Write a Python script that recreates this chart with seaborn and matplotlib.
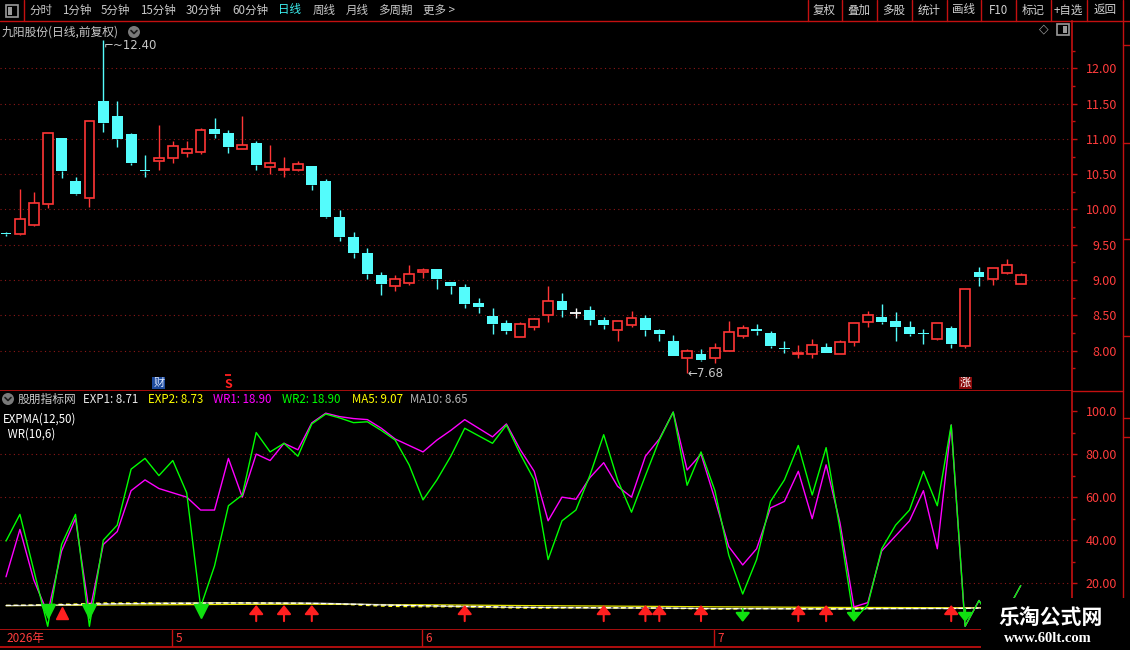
import numpy as np
import pandas as pd
import matplotlib
matplotlib.use("Agg")
import matplotlib.pyplot as plt
import matplotlib.transforms as mtransforms
from matplotlib.lines import Line2D
from matplotlib.patches import Rectangle, Circle
import seaborn as sns

# ---------------- data ----------------
opens = [9.66, 9.65, 9.78, 10.08, 11.01, 10.40, 10.16, 11.54, 11.32, 11.07,
         10.56, 10.69, 10.73, 10.80, 10.82, 11.14, 11.08, 10.86, 10.94, 10.60,
         10.56, 10.56, 10.62, 10.40, 9.89, 9.61, 9.38, 9.07, 8.91, 8.96,
         9.11, 9.16, 8.97, 8.90, 8.68, 8.49, 8.39, 8.20, 8.33, 8.50,
         8.70, 8.54, 8.58, 8.44, 8.30, 8.37, 8.46, 8.29, 8.14, 7.89,
         7.96, 7.89, 7.99, 8.21, 8.29, 8.25, 8.04, 7.96, 7.96, 8.05,
         7.96, 8.13, 8.40, 8.48, 8.42, 8.34, 8.24, 8.17, 8.32, 8.07,
         9.11, 9.01, 9.10, 8.94]
highs = [9.68, 10.29, 10.25, 11.09, 11.01, 10.46, 11.26, 12.40, 11.54, 11.09,
         10.77, 11.20, 10.97, 10.97, 11.15, 11.30, 11.13, 11.32, 10.97, 10.91,
         10.74, 10.69, 10.62, 10.43, 9.99, 9.68, 9.45, 9.11, 9.07, 9.21,
         9.17, 9.16, 8.97, 8.94, 8.75, 8.60, 8.44, 8.40, 8.47, 8.92,
         8.82, 8.60, 8.63, 8.48, 8.42, 8.56, 8.51, 8.31, 8.22, 8.02,
         8.02, 8.11, 8.42, 8.36, 8.38, 8.28, 8.14, 8.08, 8.17, 8.11,
         8.15, 8.39, 8.56, 8.66, 8.55, 8.42, 8.31, 8.39, 8.35, 8.88,
         9.19, 9.17, 9.30, 9.10]
lows = [9.63, 9.64, 9.77, 10.02, 10.44, 10.21, 10.03, 11.10, 10.88, 10.63,
        10.46, 10.56, 10.66, 10.75, 10.79, 11.01, 10.80, 10.86, 10.56, 10.50,
        10.46, 10.54, 10.28, 9.88, 9.55, 9.32, 9.02, 8.79, 8.84, 8.93,
        9.03, 8.88, 8.81, 8.61, 8.54, 8.24, 8.23, 8.20, 8.30, 8.40,
        8.48, 8.47, 8.37, 8.31, 8.14, 8.34, 8.21, 8.14, 7.93, 7.68,
        7.86, 7.82, 7.99, 8.18, 8.22, 8.04, 7.97, 7.90, 7.90, 7.97,
        7.96, 8.06, 8.34, 8.38, 8.14, 8.21, 8.10, 8.15, 8.04, 8.04,
        8.91, 8.93, 9.09, 8.94]
closes = [9.65, 9.87, 10.09, 11.09, 10.55, 10.22, 11.26, 11.23, 11.00, 10.66,
          10.54, 10.73, 10.90, 10.85, 11.12, 11.07, 10.88, 10.92, 10.63, 10.66,
          10.58, 10.64, 10.35, 9.90, 9.61, 9.39, 9.09, 8.95, 9.02, 9.08,
          9.15, 9.02, 8.92, 8.66, 8.62, 8.38, 8.28, 8.38, 8.45, 8.70,
          8.58, 8.54, 8.44, 8.37, 8.42, 8.46, 8.30, 8.23, 7.93, 7.99,
          7.87, 8.04, 8.26, 8.32, 8.28, 8.07, 8.02, 7.97, 8.08, 7.97,
          8.13, 8.39, 8.50, 8.40, 8.34, 8.24, 8.23, 8.39, 8.09, 8.88,
          9.05, 9.17, 9.21, 9.07]

wr1 = [23, 45, 21.5, 6, 35, 50, 6, 38, 44, 63,
       68, 64, 62, 60, 54, 54, 78, 60, 80, 77,
       85, 82, 94.5, 99, 97.4, 96.5, 96, 92, 87, 84,
       81, 86.5, 91, 96, 92, 88, 94, 82, 72, 49,
       60, 59, 69, 76, 65, 60, 79, 87, 99.5, 72.6,
       80, 59, 37, 28.5, 36, 55, 58, 72, 50, 75,
       48, 9, 11, 35, 42, 49, 63, 36, 93.5, 0,
       12, 1.5, 7, 18.9]
wr2 = [39.6, 52, 26, 0, 38, 52, 0, 40, 47, 73,
       78, 70, 77, 62, 9, 28, 56, 61, 90, 81,
       85, 79, 94, 98.6, 96.8, 94.6, 95, 91, 86.5, 75,
       58.7, 68, 79, 92, 88.5, 85, 93.5, 80, 68, 31,
       49, 54, 70, 89, 68, 53, 70, 86.5, 99.5, 65.5,
       81, 63, 33, 15, 31, 58, 68, 84, 61, 83,
       45, 3, 10, 36, 47, 54, 72, 56, 93.5, 0,
       12, 1.5, 7, 18.9]

exp1 = [9.70, 9.73, 9.79, 9.99, 10.08, 10.10, 10.28, 10.43, 10.52, 10.54,
        10.54, 10.57, 10.62, 10.66, 10.73, 10.78, 10.80, 10.82, 10.79, 10.77,
        10.74, 10.72, 10.66, 10.54, 10.40, 10.24, 10.06, 9.89, 9.76, 9.66,
        9.58, 9.49, 9.40, 9.29, 9.19, 9.07, 8.95, 8.86, 8.80, 8.78,
        8.75, 8.72, 8.68, 8.63, 8.60, 8.58, 8.54, 8.49, 8.40, 8.34,
        8.27, 8.23, 8.23, 8.24, 8.25, 8.22, 8.19, 8.16, 8.15, 8.12,
        8.12, 8.16, 8.21, 8.24, 8.26, 8.26, 8.25, 8.27, 8.24, 8.34,
        8.45, 8.56, 8.66, 8.71]
exp2 = [9.60, 9.61, 9.63, 9.69, 9.72, 9.74, 9.80, 9.86, 9.90, 9.93,
        9.95, 9.98, 10.02, 10.05, 10.09, 10.13, 10.16, 10.19, 10.21, 10.23,
        10.24, 10.26, 10.26, 10.25, 10.22, 10.19, 10.15, 10.10, 10.06, 10.02,
        9.99, 9.95, 9.91, 9.86, 9.81, 9.75, 9.69, 9.64, 9.59, 9.56,
        9.52, 9.48, 9.44, 9.40, 9.36, 9.32, 9.28, 9.24, 9.19, 9.14,
        9.09, 9.05, 9.02, 8.99, 8.96, 8.93, 8.89, 8.85, 8.82, 8.79,
        8.76, 8.75, 8.74, 8.73, 8.71, 8.69, 8.67, 8.66, 8.64, 8.65,
        8.67, 8.69, 8.71, 8.73]
ma5 = [9.70, 9.75, 9.85, 10.10, 10.25, 10.36, 10.64, 10.87, 10.85, 10.87,
       10.94, 10.83, 10.77, 10.74, 10.83, 10.93, 10.96, 10.97, 10.92, 10.83,
       10.73, 10.69, 10.57, 10.43, 10.22, 9.98, 9.67, 9.39, 9.21, 9.11,
       9.06, 9.04, 9.04, 8.97, 8.87, 8.72, 8.57, 8.46, 8.42, 8.44,
       8.48, 8.53, 8.54, 8.53, 8.47, 8.45, 8.40, 8.36, 8.27, 8.18,
       8.06, 8.01, 8.02, 8.10, 8.15, 8.19, 8.19, 8.13, 8.08, 8.02,
       8.03, 8.11, 8.21, 8.28, 8.35, 8.37, 8.34, 8.32, 8.26, 8.37,
       8.53, 8.72, 8.88, 9.07]
ma10 = [9.60, 9.65, 9.70, 9.80, 9.90, 10.00, 10.15, 10.30, 10.45, 10.56,
        10.65, 10.74, 10.82, 10.80, 10.85, 10.94, 10.90, 10.87, 10.83, 10.83,
        10.83, 10.83, 10.77, 10.68, 10.53, 10.36, 10.18, 9.98, 9.82, 9.67,
        9.52, 9.36, 9.22, 9.09, 8.99, 8.89, 8.81, 8.75, 8.70, 8.66,
        8.60, 8.55, 8.50, 8.48, 8.46, 8.47, 8.47, 8.45, 8.40, 8.33,
        8.26, 8.21, 8.19, 8.19, 8.17, 8.13, 8.10, 8.08, 8.09, 8.09,
        8.11, 8.15, 8.17, 8.18, 8.19, 8.20, 8.23, 8.27, 8.27, 8.36,
        8.45, 8.53, 8.60, 8.65]

month_labels = ["2026年", "5", "6", "7"]
month_starts = [0, 12, 30, 51]
price_ticks = [8.0, 8.5, 9.0, 9.5, 10.0, 10.5, 11.0, 11.5, 12.0]
wr_ticks = [20, 40, 60, 80, 100]
wr_tick_labels = ["20.00", "40.00", "60.00", "80.00", "100.0"]
buy_arrows = [18, 20, 22, 33, 43, 46, 47, 50, 57, 59, 68]
sell_arrows = [53, 61, 69]
sell_triangles = [3, 6, 14]
buy_triangles = [4]
event_idx = [11, 16, 69]
event_text = ["财", "S", "涨"]
toolbar_left = ["分时", "1分钟", "5分钟", "15分钟", "30分钟", "60分钟", "日线", "周线", "月线", "多周期", "更多 >"]
toolbar_right = ["复权", "叠加", "多股", "统计", "画线", "F10", "标记", "+自选", "返回"]
title = "九阳股份(日线,前复权)"
legend_items = [("EXP1: 8.71", "#e8e8e8"), ("EXP2: 8.73", "#ffff00"), ("WR1: 18.90", "#ff00ff"),
                ("WR2: 18.90", "#00ff00"), ("MA5: 9.07", "#ffff00"), ("MA10: 8.65", "#b4b4b4")]

# ---------------- style ----------------
sns.set_theme(style="dark", rc={"axes.facecolor": "black", "figure.facecolor": "black",
                                "axes.grid": False, "savefig.facecolor": "black"})
plt.rcParams["font.family"] = ["Noto Sans CJK SC", "DejaVu Sans"]

RED = "#ff3636"
CYAN = "#54fcfc"
LINE = "#c41010"
GRID = "#8e1818"
AXT = "#ff3c3c"
GREY = "#c8c8c8"

W, H = 1130, 650
fig = plt.figure(figsize=(W / 100, H / 100), dpi=100, facecolor="black")
ID = mtransforms.IdentityTransform()


def pline(xs, ys, color=LINE, lw=1.0, z=5):
    fig.add_artist(Line2D(xs, [H - y for y in ys], color=color, lw=lw, transform=ID, zorder=z))


def ptext(x, y, s, color=GREY, size=8.5, ha="left", **kw):
    fig.text(x / W, 1 - y / H, s, color=color, fontsize=size, ha=ha, va="center", **kw)


n = len(closes)
idx = np.arange(n)
o = np.array(opens); c = np.array(closes); hi = np.array(highs); lo = np.array(lows)

XL = (-0.432, 76.69)
ax1 = fig.add_axes([0, 1 - 391 / H, 1072 / W, 370 / H])
ax2 = fig.add_axes([0, 1 - 630 / H, 1072 / W, 239 / H], sharex=ax1)
ax3 = fig.add_axes([0, 1 - 647 / H, 1072 / W, 17 / H], sharex=ax1)
for ax in (ax1, ax2, ax3):
    ax.set_facecolor("black")
    for s in ax.spines.values():
        s.set_visible(False)
    ax.tick_params(axis="x", which="both", bottom=False, labelbottom=False, top=False)
ax1.set_xlim(*XL)

# ---------------- candles ----------------
body_lo = np.minimum(o, c)
body_hi = np.maximum(o, c)
cols = np.where(c > o, RED, np.where(c < o, CYAN, "#ffffff"))
ax1.vlines(idx, body_hi, hi, colors=cols, lw=1.0, zorder=2)
ax1.vlines(idx, lo, body_lo, colors=cols, lw=1.0, zorder=2)
up = c > o
dn = c < o
fl = c == o
ax1.bar(idx[up], np.maximum(body_hi[up] - body_lo[up], 0.012), bottom=body_lo[up], width=0.70,
        facecolor="black", edgecolor=RED, linewidth=1.2, zorder=3)
ax1.bar(idx[dn], np.maximum(body_hi[dn] - body_lo[dn], 0.022), bottom=body_lo[dn], width=0.78,
        color=CYAN, linewidth=0, zorder=3)
ax1.hlines(c[fl], idx[fl] - 0.39, idx[fl] + 0.39, colors="#ffffff", lw=1.3, zorder=3)
ax1.set_ylim(7.429, 12.67)

imax = int(np.argmax(hi)); imin = int(np.argmin(lo))
ax1.text(imax, hi[imax] - 0.07, "⌐~" + f"{hi[imax]:.2f}", color=GREY, fontsize=8.5,
         ha="left", va="center", family=["DejaVu Sans"])
ax1.text(imin, lo[imin] - 0.01, "←" + f"{lo[imin]:.2f}", color=GREY, fontsize=8.5,
         ha="left", va="center", family=["DejaVu Sans"])

for i, t in zip(event_idx, event_text):
    if t == "财":
        ax1.text(i, 7.54, t, color="#dce8ff", fontsize=8, ha="center", va="center",
                 bbox=dict(boxstyle="square,pad=0.08", fc="#1d4a9c", ec="none"), zorder=6)
    elif t == "涨":
        ax1.text(i, 7.54, t, color="#ffffff", fontsize=8, ha="center", va="center",
                 bbox=dict(boxstyle="square,pad=0.08", fc="#8a0a0a", ec="none"), zorder=6)
    else:
        ax1.text(i, 7.52, t, color="#ff2020", fontsize=9, ha="center", va="center",
                 fontweight="bold", zorder=6)
        ax1.plot([i], [7.655], marker="_", ms=4, mew=1.3, color="#ff2020", zorder=6)

for v in price_ticks:
    ax1.axhline(v, color=GRID, lw=0.8, ls=(0, (1, 3)), zorder=0)

# ---------------- indicator panel ----------------
df = pd.DataFrame({"i": idx, "wr1": wr1, "wr2": wr2, "exp1": exp1, "exp2": exp2,
                   "ma5": ma5, "ma10": ma10})
sns.lineplot(data=df, x="i", y="exp2", ax=ax2, color="#e8e800", lw=0.9, legend=False)
sns.lineplot(data=df, x="i", y="ma10", ax=ax2, color="#b4b4b4", lw=0.9, legend=False)
l_ma5 = sns.lineplot(data=df, x="i", y="ma5", ax=ax2, color="#ffff00", lw=0.9, legend=False)
l_ma5.lines[-1].set_dashes([3, 3])
l_e1 = sns.lineplot(data=df, x="i", y="exp1", ax=ax2, color="#ffffff", lw=0.9, legend=False)
l_e1.lines[-1].set_dashes([4, 2])
sns.lineplot(data=df, x="i", y="wr1", ax=ax2, color="#ff00ff", lw=1.0, legend=False)
sns.lineplot(data=df, x="i", y="wr2", ax=ax2, color="#00ff00", lw=1.0, legend=False)
ax2.set_xlabel(""); ax2.set_ylabel("")
ax2.set_ylim(-1.72, 109.3)
for v in wr_ticks[:-1]:
    ax2.axhline(v, color=GRID, lw=0.8, ls=(0, (1, 3)), zorder=0)

for i in buy_arrows:
    ax2.annotate("", xy=(i, 9.9), xytext=(i, 2.4),
                 arrowprops=dict(arrowstyle="-|>,head_width=0.36,head_length=0.45",
                                 color="#ff2020", lw=1.5, shrinkA=0, shrinkB=0), zorder=7)
for i in sell_arrows:
    ax2.annotate("", xy=(i, 2.0), xytext=(i, 8.0),
                 arrowprops=dict(arrowstyle="-|>,head_width=0.36,head_length=0.45",
                                 color="#10e010", lw=1.5, shrinkA=0, shrinkB=0), zorder=7)
ax2.plot(sell_triangles, [7.0] * len(sell_triangles), ls="none", marker="v", ms=9.5,
         color="#10e010", zorder=7)
ax2.plot(buy_triangles, [6.3] * len(buy_triangles), ls="none", marker="^", ms=8.5,
         color="#ff2020", zorder=7)

# right axes
for ax, ticks, labels, minor in (
        (ax1, price_ticks, [f"{v:.2f}" for v in price_ticks], np.arange(7.75, 12.5, 0.5)),
        (ax2, wr_ticks, wr_tick_labels, [10, 30, 50, 70, 90])):
    ax.yaxis.tick_right()
    ax.set_yticks(ticks)
    ax.set_yticklabels(labels, ha="right")
    ax.set_yticks(minor, minor=True)
    ax.tick_params(axis="y", which="major", length=3.6, width=1.0, color=LINE,
                   labelcolor=AXT, labelsize=9, pad=28.8, left=False)
    ax.tick_params(axis="y", which="minor", length=2.0, width=1.0, color=LINE, left=False)
    ax.spines["right"].set_visible(True)
    ax.spines["right"].set_color(LINE)
    ax.spines["right"].set_linewidth(1.2)
    ax.spines["bottom"].set_visible(True)
    ax.spines["bottom"].set_color(LINE)
    ax.spines["bottom"].set_linewidth(1.2)
    ax.set_ylabel("")
ax1.set_xlim(*XL)

# date axis
ax3.set_ylim(0, 1)
ax3.set_yticks([])
ax3.spines["bottom"].set_visible(True)
ax3.spines["bottom"].set_color(LINE)
for m, lbl in zip(month_starts, month_labels):
    if m > 0:
        ax3.axvline(m - 0.04, color=LINE, lw=1.0)
    ax3.annotate(lbl, xy=(m, 0.5), xycoords=("data", "axes fraction"),
                 xytext=(2 if m > 0 else 0.5, 0), textcoords="offset points",
                 color=AXT, fontsize=8.5, ha="left", va="center")

# ---------------- frame / toolbar ----------------
pline([0, W], [21, 21])
pline([23.5, 23.5], [0, 21])
pline([1072, 1123], [391, 391])
pline([1123, 1123], [21, 598])
for yy in (45, 143, 239, 336, 418, 437):
    pline([1123, W], [yy, yy])
seps = [807.5, 841.5, 876.5, 911.5, 946.5, 981, 1016, 1051, 1086.5, 1123]
for s in seps:
    pline([s, s], [0, 21])
for k, lbl in enumerate(toolbar_right):
    ptext((seps[k] + seps[k + 1]) / 2, 10, lbl, color="#d0d0d0", size=8.3, ha="center")
lx = [29, 62, 101, 140, 186, 232, 278, 313, 346, 378, 423]
for x, lbl in zip(lx, toolbar_left):
    ptext(x, 10, lbl, color="#3cf0f0" if lbl == "日线" else "#c8c8c8", size=8.3)

# icons
fig.add_artist(Rectangle((5.5, H - 16.5), 12, 12, transform=ID, fill=False, ec="#9a9a9a", lw=1.2))
fig.add_artist(Rectangle((7.5, H - 14.5), 4, 8, transform=ID, fc="#9a9a9a", ec="none"))
fig.add_artist(Rectangle((1057, H - 35), 12, 11, transform=ID, fill=False, ec="#9a9a9a", lw=1.2))
fig.add_artist(Rectangle((1063, H - 33), 4, 7, transform=ID, fc="#9a9a9a", ec="none"))
ptext(1044, 29, "◇", color="#9a9a9a", size=9, ha="center", family=["DejaVu Sans"])
for cx, cy in ((134, 32), (8, 399)):
    fig.add_artist(Circle((cx, H - cy), 6, transform=ID, fc="#7a7a7a", ec="none"))
    pline([cx - 3, cx, cx + 3], [cy - 1.5, cy + 1.5, cy - 1.5], color="#1a1a1a", lw=1.2, z=6)

ptext(2, 32, title, color="#c8c8c8", size=8.5)
ptext(18, 399.5, "股朋指标网", color="#c8c8c8", size=8.5)
lpos = [83, 148, 213, 282, 352, 410]
for x, (s, col) in zip(lpos, legend_items):
    ptext(x, 399.5, s, color=col, size=8.3)
ptext(3, 419, "EXPMA(12,50)", color="#ffffff", size=8.3)
ptext(5, 434, " WR(10,6)", color="#ffffff", size=8.3)

# watermark
fig.add_artist(Rectangle((981, 0), W - 981, H - 598, transform=ID, fc="black", ec="none", zorder=20))
ptext(1051, 617, "乐淘公式网", color="#ffffff", size=15, ha="center", fontweight="bold", zorder=21)
ptext(1048, 639, "www.60lt.com", color="#ffffff", size=10.5, ha="center", fontweight="bold",
      family=["Liberation Serif", "DejaVu Serif"], zorder=21)

fig.savefig("out.png", dpi=100, facecolor="black")
